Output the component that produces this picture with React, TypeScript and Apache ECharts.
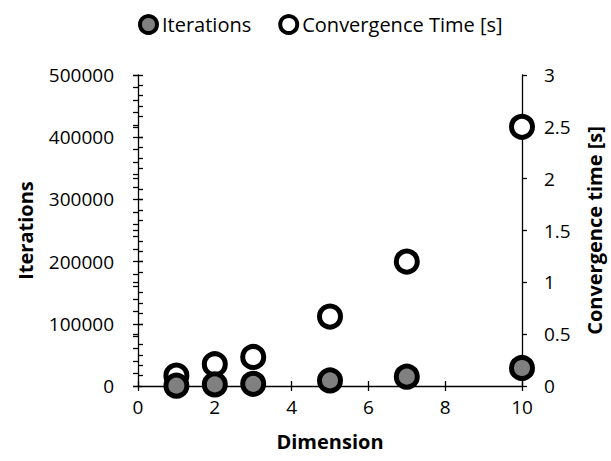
import React, { useEffect, useRef } from "react";
import * as echarts from "echarts";

const dimensions = [1, 2, 3, 5, 7, 10];
const iterations = [500, 2500, 3500, 9000, 15000, 29000];
const convergenceTime = [0.1, 0.21, 0.28, 0.67, 1.2, 2.5];
const seriesNames = ["Iterations", "Convergence Time [s]"];
const axisNames = { x: "Dimension", left: "Iterations", right: "Convergence time [s]" };

const FONT = "Open Sans";

export default function App() {
  const ref = useRef<HTMLDivElement>(null);
  useEffect(() => {
    const chart = echarts.init(ref.current!, null, { renderer: "svg" });
    const lineStyle = { color: "#000", width: 1.3 };
    const label = { color: "#000", fontFamily: FONT, fontSize: 19 };
    const nameStyle = { color: "#000", fontFamily: FONT, fontSize: 20, fontWeight: "bold" as const };
    const plain = (v: number) => String(v);
    chart.setOption({
      animation: false,
      textStyle: { fontFamily: FONT },
      grid: { left: 138, right: 89, top: 75, bottom: 75, containLabel: false, outerBoundsMode: "none" },
      legend: {
        left: 133,
        top: 9,
        itemWidth: 17,
        itemHeight: 17,
        itemGap: 27,
        textStyle: { color: "#000", fontFamily: FONT, fontSize: 20 },
        data: [
          { name: seriesNames[0], icon: "circle", itemStyle: { color: "#808080", borderColor: "#000", borderWidth: 4 } },
          { name: seriesNames[1], icon: "circle", itemStyle: { color: "#fff", borderColor: "#000", borderWidth: 4 } },
        ],
      },
      xAxis: [
        {
          type: "value",
          min: 0,
          max: 10,
          interval: 2,
          name: axisNames.x,
          nameLocation: "middle",
          nameGap: 45,
          nameTextStyle: nameStyle,
          axisLine: { onZero: false, lineStyle },
          axisTick: { show: true, length: 5, lineStyle },
          axisLabel: { ...label, margin: 11, formatter: plain },
          splitLine: { show: false },
        },
        {
          type: "value",
          min: 0,
          max: 10,
          interval: 2,
          position: "bottom",
          axisLine: { show: false },
          axisTick: { show: true, inside: true, length: 5, lineStyle },
          axisLabel: { show: false },
          splitLine: { show: false },
        },
      ],
      yAxis: [
        {
          type: "value",
          min: 0,
          max: 500000,
          interval: 100000,
          position: "left",
          name: axisNames.left,
          nameLocation: "middle",
          nameRotate: 90,
          nameGap: 103,
          nameTextStyle: nameStyle,
          axisLine: { show: true, onZero: false, lineStyle },
          axisTick: { show: true, length: 5, lineStyle },
          axisLabel: { ...label, margin: 24, formatter: plain },
          splitLine: { show: false },
        },
        {
          type: "value",
          min: 0,
          max: 3,
          interval: 0.5,
          position: "right",
          name: axisNames.right,
          nameLocation: "middle",
          nameRotate: 90,
          nameGap: 62,
          nameTextStyle: nameStyle,
          axisLine: { show: true, onZero: false, lineStyle },
          axisTick: { show: true, length: 5, lineStyle },
          axisLabel: { ...label, margin: 22, formatter: plain },
          splitLine: { show: false },
        },
        {
          type: "value",
          min: 0,
          max: 500000,
          interval: 100000,
          position: "left",
          axisLine: { show: false },
          axisTick: { show: true, inside: true, length: 5, lineStyle },
          minorTick: { show: true, splitNumber: 5, length: -5, lineStyle },
          axisLabel: { show: false },
          splitLine: { show: false },
        },
        {
          type: "value",
          min: 0,
          max: 3,
          interval: 0.5,
          position: "right",
          axisLine: { show: false },
          axisTick: { show: true, inside: true, length: 5, lineStyle },
          minorTick: { show: true, splitNumber: 5, length: -5, lineStyle },
          axisLabel: { show: false },
          splitLine: { show: false },
        },
      ],
      series: [
        {
          name: seriesNames[1],
          type: "scatter",
          yAxisIndex: 1,
          symbol: "circle",
          symbolSize: 21,
          z: 3,
          itemStyle: { color: "#fff", borderColor: "#000", borderWidth: 5, opacity: 1 },
          data: dimensions.map((d, i) => [d, convergenceTime[i]]),
        },
        {
          name: seriesNames[0],
          type: "scatter",
          yAxisIndex: 0,
          symbol: "circle",
          symbolSize: 21,
          z: 4,
          itemStyle: { color: "#808080", borderColor: "#000", borderWidth: 5, opacity: 1 },
          data: dimensions.map((d, i) => [d, iterations[i]]),
        },
      ],
    });
    return () => chart.dispose();
  }, []);
  return <div ref={ref} style={{ position: "absolute", left: 0, top: 0, width: 611, height: 461 }} />;
}
